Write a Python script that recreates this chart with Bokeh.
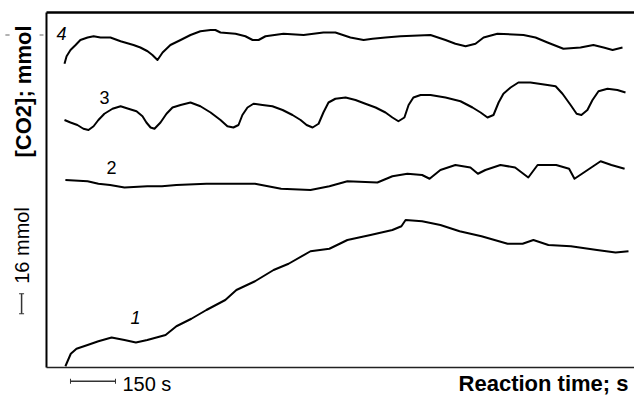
import math
from bokeh.plotting import figure
from bokeh.models import Label, Arrow, TeeHead, Range1d
from bokeh.embed import file_html
from bokeh.resources import INLINE

# Reaction time (s) and CO2 trace values (mmol, stacked traces as drawn)
t4 = [0, 7, 20, 37, 53, 77, 97, 120, 153, 187, 230, 253, 277, 293, 310, 327, 353, 387, 420,
      453, 487, 503, 520, 570, 603, 627, 647, 670, 730, 797, 863, 903, 953, 997, 1027, 1070,
      1120, 1220, 1270, 1303, 1337, 1370, 1397, 1443, 1530, 1570, 1610, 1663, 1720, 1763,
      1797, 1827, 1860]
v4 = [243, 249, 254, 258, 262, 264, 265, 264, 264, 261, 258, 256, 253, 250, 246, 252, 258, 262, 266,
      269, 270, 270, 268, 267, 265, 262, 262, 265, 267, 266, 268, 268, 264, 262, 263, 264,
      265, 266, 262, 259, 257, 259, 264, 267, 266, 264, 260, 255, 256, 258,
      256, 254, 256]

t3 = [0, 20, 43, 63, 80, 97, 113, 133, 160, 187, 213, 240, 260, 273, 287, 300, 320, 340, 360,
      387, 420, 453, 487, 520, 543, 563, 580, 593, 610, 630, 660, 693, 727, 760, 787, 807,
      827, 847, 863, 880, 903, 937, 970, 1003, 1037, 1070, 1093, 1113, 1133, 1147, 1163,
      1187, 1220, 1270, 1320, 1360, 1387, 1410, 1430, 1447, 1463, 1487, 1513, 1553, 1610,
      1637, 1660, 1687, 1707, 1723, 1743, 1760, 1780, 1810, 1843, 1870]
v3 = [198, 196, 194, 191, 190, 193, 198, 203, 207, 209, 207, 205, 201, 196, 192, 191, 196, 203, 208,
      210, 212, 209, 204, 198, 193, 192, 194, 202, 208, 211, 210, 209, 206, 202, 198, 194,
      192, 195, 204, 212, 215, 216, 214, 211, 208, 204, 200, 197, 200, 210, 216,
      218, 218, 216, 213, 208, 204, 200, 202, 212, 219, 224, 228, 228, 226,
      225, 219, 210, 203, 202, 206, 214, 221, 223, 222, 220]

t2 = [3, 77, 113, 152, 200, 276, 325, 373, 473, 573, 635, 722, 820, 883, 943, 1043, 1093,
      1143, 1192, 1217, 1253, 1303, 1353, 1378, 1403, 1453, 1502, 1546, 1577, 1639, 1682,
      1700, 1725, 1787, 1823, 1867]
v2 = [150, 149, 147, 146, 144, 145, 145, 146, 147, 147, 147, 143, 142, 145, 149, 148, 153,
      155, 154, 151, 158, 162, 160, 155, 158, 162, 160, 152, 162, 162, 159,
      151, 155, 165, 162, 159]

t1 = [3, 21, 40, 77, 113, 157, 200, 238, 276, 337, 373, 423, 473, 536, 573, 635, 697, 747,
      820, 883, 943, 1020, 1093, 1123, 1137, 1192, 1253, 1317, 1390, 1477, 1527, 1563, 1613,
      1688, 1775, 1837, 1880]
v1 = [1, 11, 15, 18, 21, 24, 22, 20, 22, 26, 33, 39, 46, 54, 62, 69, 78, 83,
      93, 95, 102, 106, 110, 113, 118, 117, 114, 109, 105, 99, 99, 102, 98,
      97, 94, 92, 93]

curve_names = ["1", "2", "3", "4"]
name_pos_t = [237, 157, 133, -10]
name_pos_v = [40, 160, 216, 267]
name_style = ["italic", "normal", "normal", "italic"]

time_bar_s = 150
conc_bar_mmol = 16

# plotting box (data units) and full view
box_t0, box_t1 = -60, 1900
box_v0, box_v1 = 0, 284

p = figure(width=634, height=404, output_backend="svg", toolbar_location=None,
           x_range=Range1d(-213.3, 1900), y_range=Range1d(-29.6, 293.6),
           min_border=0)
p.xaxis.visible = False
p.yaxis.visible = False
p.grid.visible = False
p.outline_line_color = None
p.background_fill_color = "white"
p.border_fill_color = "white"

for t, v in [(t1, v1), (t2, v2), (t3, v3), (t4, v4)]:
    p.line(t, v, line_color="black", line_width=2, line_join="round")

# box lines: left, top, bottom
p.line([box_t0, box_t0], [box_v0, box_v1], line_color="black", line_width=2)
p.line([box_t0, box_t1], [box_v1, box_v1], line_color="black", line_width=2.5)
p.line([box_t0, box_t1], [box_v0, box_v0], line_color="#222222", line_width=1.5)

for name, tt, vv, st in zip(curve_names, name_pos_t, name_pos_v, name_style):
    p.add_layout(Label(x=tt, y=vv, text=name, text_font="Liberation Sans", text_font_size="18px",
                       text_font_style=st, text_align="center", text_baseline="middle",
                       text_color="black"))

# time scale bar
p.add_layout(Arrow(x_start=20, y_start=-11, x_end=20 + time_bar_s, y_end=-11,
                   line_color="#333333", line_width=1.5,
                   start=TeeHead(size=5, line_color="#333333", line_width=1),
                   end=TeeHead(size=5, line_color="#333333", line_width=1)))
p.add_layout(Label(x=193, y=-13, text="150 s", text_font="Liberation Sans", text_font_size="20px",
                   text_align="left", text_baseline="middle", text_color="black"))
p.add_layout(Label(x=1880, y=-13, text="Reaction time; s", text_font="Liberation Sans",
                   text_font_size="22px", text_font_style="bold",
                   text_align="right", text_baseline="middle", text_color="black"))

# concentration scale bar
p.add_layout(Arrow(x_start=-143, y_start=43, x_end=-143, y_end=43 + conc_bar_mmol,
                   line_color="#333333", line_width=1.5,
                   start=TeeHead(size=5, line_color="#333333", line_width=1),
                   end=TeeHead(size=5, line_color="#333333", line_width=1)))
p.add_layout(Label(x=-143, y=67, text="16 mmol", text_font="Liberation Sans", text_font_size="20px",
                   angle=math.pi / 2, text_align="left", text_baseline="middle", text_color="black"))
p.add_layout(Label(x=-137, y=168, text="[CO2]; mmol", text_font="Liberation Sans",
                   text_font_size="22px", text_font_style="bold",
                   angle=math.pi / 2, text_align="left", text_baseline="middle", text_color="black"))

# small dashes
for a, b in [(-197, -183), (-83, -70)]:
    p.add_layout(Arrow(x_start=a, y_start=266, x_end=b, y_end=266, end=None,
                       line_color="#666666", line_width=1))

open("out.html", "w").write(file_html(p, INLINE))
